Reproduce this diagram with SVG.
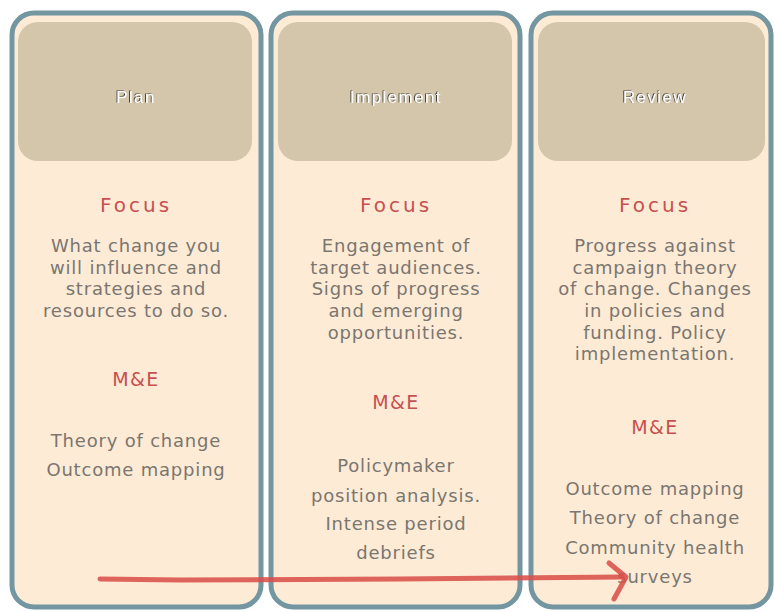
<svg xmlns="http://www.w3.org/2000/svg" width="774" height="612" viewBox="0 0 774 612">
<defs>
<style>
.panel{fill:#fdebd6;stroke:#7396a1;stroke-width:5}
.head{fill:#d3c6aa}
.hl{font-family:"Liberation Sans",sans-serif;font-size:17px;fill:#ffffff;text-anchor:middle;letter-spacing:1.4px;filter:url(#sh)}
.fo{font-family:"DejaVu Sans",sans-serif;font-size:20px;fill:#c8504f;text-anchor:middle;letter-spacing:3px}
.me{font-family:"DejaVu Sans",sans-serif;font-size:19px;fill:#c8504f;text-anchor:middle;letter-spacing:1.5px}
.bd{font-family:"DejaVu Sans",sans-serif;font-size:18px;fill:#7a7670;text-anchor:middle;letter-spacing:0.8px}
.arr{fill:none;stroke:#d9504a;stroke-linecap:round;stroke-linejoin:round;opacity:0.88}
</style>
<filter id="sh" x="-20%" y="-50%" width="140%" height="200%">
<feDropShadow dx="-1" dy="-0.5" stdDeviation="0.4" flood-color="#2a2a2a" flood-opacity="0.9"/>
</filter>
</defs>
<rect width="774" height="612" fill="#ffffff"/>
<g id="plan">
<rect class="panel" x="12" y="13" width="249" height="594" rx="22"/>
<rect class="head" x="18" y="22" width="234" height="139" rx="20"/>
<text class="hl" x="136" y="103">Plan</text>
<text class="fo" x="136" y="212">Focus</text>
<text class="bd" x="136" y="252">What change you</text>
<text class="bd" x="136" y="274">will influence and</text>
<text class="bd" x="136" y="295">strategies and</text>
<text class="bd" x="136" y="317">resources to do so.</text>
<text class="me" x="136" y="386">M&amp;E</text>
<text class="bd" x="136" y="447">Theory of change</text>
<text class="bd" x="136" y="476">Outcome mapping</text>
</g>
<g id="implement">
<rect class="panel" x="271" y="13" width="249" height="594" rx="22"/>
<rect class="head" x="278" y="22" width="234" height="139" rx="20"/>
<text class="hl" x="396" y="103">Implement</text>
<text class="fo" x="396" y="212">Focus</text>
<text class="bd" x="396" y="252">Engagement of</text>
<text class="bd" x="396" y="274">target audiences.</text>
<text class="bd" x="396" y="295">Signs of progress</text>
<text class="bd" x="396" y="317">and emerging</text>
<text class="bd" x="396" y="339">opportunities.</text>
<text class="me" x="396" y="409">M&amp;E</text>
<text class="bd" x="396" y="472">Policymaker</text>
<text class="bd" x="396" y="502">position analysis.</text>
<text class="bd" x="396" y="530">Intense period</text>
<text class="bd" x="396" y="559">debriefs</text>
</g>
<g id="review">
<rect class="panel" x="531" y="13" width="240" height="594" rx="22"/>
<rect class="head" x="538" y="22" width="227" height="139" rx="20"/>
<text class="hl" x="655" y="103">Review</text>
<text class="fo" x="655" y="212">Focus</text>
<text class="bd" x="655" y="252">Progress against</text>
<text class="bd" x="655" y="274">campaign theory</text>
<text class="bd" x="655" y="295">of change. Changes</text>
<text class="bd" x="655" y="317">in policies and</text>
<text class="bd" x="655" y="339">funding. Policy</text>
<text class="bd" x="655" y="360">implementation.</text>
<text class="me" x="655" y="434">M&amp;E</text>
<text class="bd" x="655" y="495">Outcome mapping</text>
<text class="bd" x="655" y="524">Theory of change</text>
<text class="bd" x="655" y="554">Community health</text>
<text class="bd" x="655" y="583">surveys</text>
</g>
<g id="connectors">
<path class="arr" d="M100,579 L180,580 L400,579 L622,577" stroke-width="5"/>
<path class="arr" d="M609,563 L626,577 L614,599" stroke-width="5"/>
</g>
</svg>
